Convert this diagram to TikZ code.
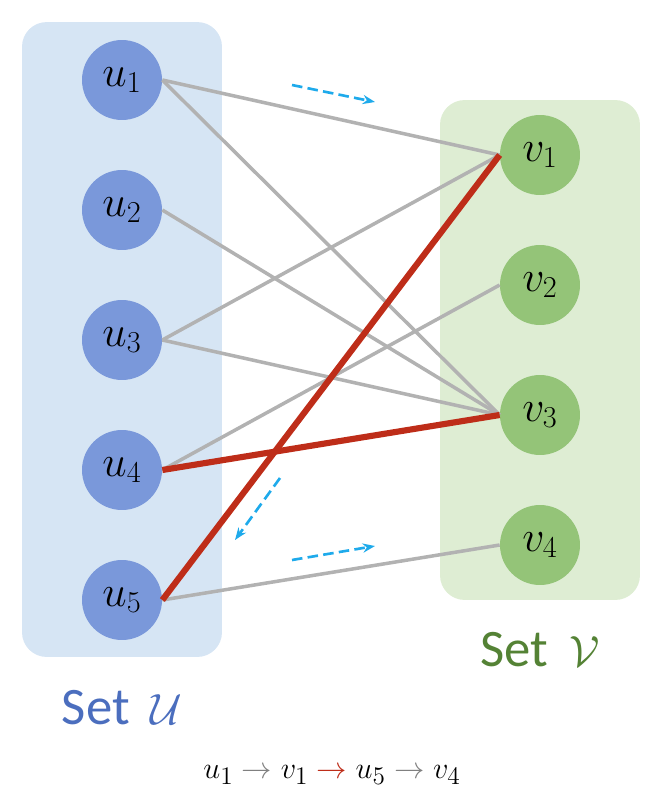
\documentclass[tikz,border=0pt]{standalone}
\usepackage{fontspec}
\setmainfont{Carlito}
\usepackage{amsmath}
\usetikzlibrary{arrows.meta}
\definecolor{setBlue}{RGB}{214,229,244}
\definecolor{setGreen}{RGB}{222,237,211}
\definecolor{nodeBlue}{RGB}{122,152,218}
\definecolor{nodeGreen}{RGB}{148,196,120}
\definecolor{textBlue}{RGB}{75,110,190}
\definecolor{textGreen}{RGB}{84,130,53}
\definecolor{edgeRed}{RGB}{190,45,25}
\definecolor{flowCyan}{RGB}{30,170,235}
\begin{document}
\begin{tikzpicture}[x=0.02cm,y=-0.02cm,
        panel/.style={rectangle, rounded corners=14pt, draw=none},
        vtxU/.style={circle, fill=nodeBlue, minimum size=1.6cm, inner sep=0pt, font=\fontsize{27}{27}\selectfont},
        vtxV/.style={circle, fill=nodeGreen, minimum size=1.6cm, inner sep=0pt, font=\fontsize{27}{27}\selectfont},
        edge/.style={draw=gray!60, line width=2pt},
        match/.style={draw=edgeRed, line width=3.5pt},
        flow/.style={draw=flowCyan, dash pattern=on 6pt off 3pt, line width=1.5pt, -{Stealth[length=7pt]}},
        setlabel/.style={font=\fontsize{30}{30}\selectfont}
    ]
        \useasboundingbox (0,0) rectangle (664,808);
        \node[panel, fill=setBlue, minimum width=4cm, minimum height=12.7cm] (setU) at (122,339.5) {};
        \node[panel, fill=setGreen, minimum width=4cm, minimum height=10cm] (setV) at (540,350) {};
        \foreach \i/\y in {1/80,2/210,3/340,4/470,5/600}
            \node[vtxU] (u\i) at (122,\y) {$u_{\i}$};
        \foreach \i/\y in {1/155,2/285,3/415,4/545}
            \node[vtxV] (v\i) at (540,\y) {$v_{\i}$};
        % edges
        \foreach \a/\b in {1/1,1/3,2/3,3/1,3/3,4/2,5/4}
            \draw[edge] (u\a.east) -- (v\b.west);
        \draw[match] (u4.east) -- (v3.west);
        \draw[match] (u5.east) -- (v1.west);
        % flow hints
        \coordinate (fa1) at (292,85);  \coordinate (fa2) at (375,102);
        \coordinate (fb1) at (292,560); \coordinate (fb2) at (375,546);
        \coordinate (fc1) at (280,478); \coordinate (fc2) at (235,540);
        \draw[flow] (fa1) -- (fa2);
        \draw[flow] (fb1) -- (fb2);
        \draw[flow] (fc1) -- (fc2);
        \node[setlabel, text=textBlue] (labU) at (122,708) {Set\, $\mathcal{U}$};
        \node[setlabel, text=textGreen] (labV) at (540,650) {Set\, $\mathcal{V}$};
        \node[font=\fontsize{19}{19}\selectfont] (path) at (332,775) {$u_1 \mathrel{\textcolor{gray}{\rightarrow}} v_1 \mathrel{\textcolor{edgeRed}{\rightarrow}} u_5 \mathrel{\textcolor{gray}{\rightarrow}} v_4$};
    \end{tikzpicture}
\end{document}
